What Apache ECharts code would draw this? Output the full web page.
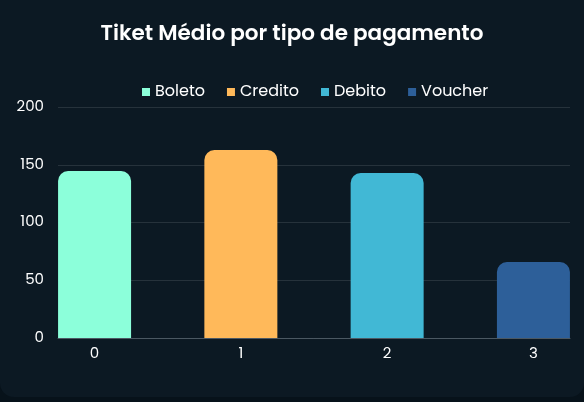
<!DOCTYPE html>
<html><head><meta charset="utf-8">
<script src="https://cdn.jsdelivr.net/npm/echarts@6/dist/echarts.min.js"></script>
<style>
html,body{margin:0;padding:0;width:584px;height:402px;background:#07121a;overflow:hidden}
#card{position:absolute;left:0;top:0;width:584px;height:397px;background:#0c1923;border-radius:0 0 14px 14px}
#c{width:584px;height:397px}
</style></head><body>
<div id="card"><div id="c"></div></div>
<script>
const seriesNames = ['Boleto','Credito','Debito','Voucher'];
const xPositions = [0,1,2,3];
const values = [144.6, 162.8, 142.9, 65.8];
const colors = ['#8cffda','#ffb95a','#41b8d5','#2d5f99'];
const xTicks = [0,1,2,3];
const yTicks = [0,50,100,150,200];

const font = 'Poppins, Inter, "Noto Sans", sans-serif';
const chart = echarts.init(document.getElementById('c'));
chart.setOption({
  backgroundColor:'transparent',
  title:{text:'Tiket Médio por tipo de pagamento',left:'center',top:19,
    textStyle:{color:'#ffffff',fontSize:21.5,fontWeight:600,fontFamily:font}},
  legend:{top:79,left:137,itemWidth:8,itemHeight:8,itemGap:22,icon:'rect',
    textStyle:{color:'#ffffff',fontSize:16,fontFamily:font},data:seriesNames},
  grid:{left:58,right:14,top:107,bottom:59,containLabel:false},
  xAxis:{type:'value',min:-0.25,max:3.25,
    axisLine:{show:true,onZero:false,lineStyle:{color:'#4b5862',width:1}},
    axisTick:{show:false},splitLine:{show:false},
    axisLabel:{customValues:xTicks,color:'#ffffff',fontSize:15,fontFamily:font,margin:9}},
  yAxis:{type:'value',min:0,max:200,interval:50,
    axisLine:{show:false},axisTick:{show:false},
    splitLine:{lineStyle:{color:'#26323b',width:1}},
    axisLabel:{color:'#ffffff',fontSize:15,fontFamily:font,margin:14}},
  series: seriesNames.map((n,i)=>({
    name:n,type:'bar',barWidth:73,barGap:'-100%',
    itemStyle:{color:colors[i],borderRadius:[10,10,0,0]},
    data:[[xPositions[i],values[i]]]
  }))
});
</script></body></html>
